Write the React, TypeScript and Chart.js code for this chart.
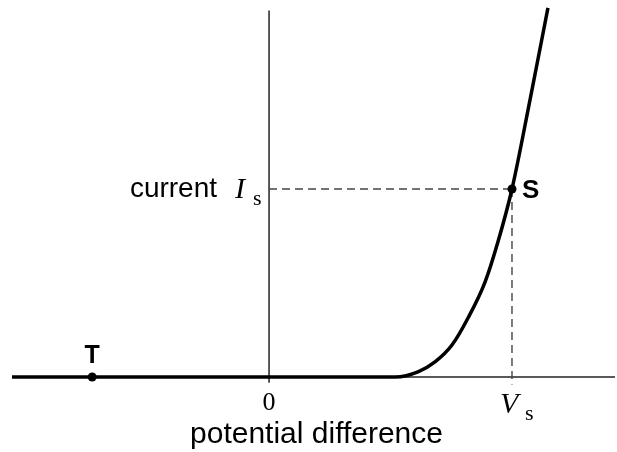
import React, { useEffect, useRef } from "react";
import { Chart, registerables } from "chart.js";

Chart.register(...registerables);

// Data (units: V_s = 1, I_s = 1)
const curveV = [-1.058, 0.52, 0.613, 0.683, 0.753, 0.819, 0.889, 0.942, 1.0, 1.074, 1.148];
const curveI = [0, 0, 0.027, 0.08, 0.17, 0.314, 0.505, 0.718, 1.0, 1.473, 1.963];
const pointNames = ["T", "S"];
const pointV = [-0.728, 1.0];
const pointI = [0, 1.0];
const xRange = [-1.058, 1.424];
const yRange = [-0.399, 2.0];
const yAxisSpan = [-0.03, 1.95];
const dashDrop = -0.04;

const SANS = '"Liberation Sans", Arial, sans-serif';
const SERIF = '"Liberation Serif", "Times New Roman", serif';

const labelPlugin = {
  id: "labels",
  afterDatasetsDraw(chart: any) {
    const ctx = chart.ctx;
    const xs = chart.scales.x;
    const ys = chart.scales.y;
    const x0 = xs.getPixelForValue(0);
    const xS = xs.getPixelForValue(pointV[1]);
    const xT = xs.getPixelForValue(pointV[0]);
    const y0 = ys.getPixelForValue(0);
    const y1 = ys.getPixelForValue(pointI[1]);
    ctx.save();
    ctx.fillStyle = "#000";
    ctx.textBaseline = "alphabetic";

    // "0"
    ctx.font = `26px ${SERIF}`;
    ctx.textAlign = "center";
    ctx.fillText("0", x0, y0 + 33);

    // V_s
    ctx.textAlign = "left";
    ctx.font = `italic 30px ${SERIF}`;
    ctx.fillText("V", xS - 12, y0 + 36);
    ctx.font = `22px ${SERIF}`;
    ctx.fillText("s", xS + 13, y0 + 43);

    // current I_s
    ctx.font = `28px ${SANS}`;
    ctx.textAlign = "right";
    ctx.fillText("current", x0 - 52, y1 + 8);
    ctx.textAlign = "left";
    ctx.font = `italic 30px ${SERIF}`;
    ctx.fillText("I", x0 - 34, y1 + 9);
    ctx.font = `22px ${SERIF}`;
    ctx.fillText("s", x0 - 16, y1 + 16);

    // T and S
    ctx.font = `bold 25px ${SANS}`;
    ctx.textAlign = "center";
    ctx.fillText(pointNames[0], xT, y0 - 14);
    ctx.font = `bold 26px ${SANS}`;
    ctx.textAlign = "left";
    ctx.fillText(pointNames[1], xS + 10, y1 + 9);

    // axis title
    ctx.font = `30px ${SANS}`;
    ctx.textAlign = "center";
    const ca = chart.chartArea;
    ctx.fillText("potential difference", (ca.left + ca.right) / 2 + 3, y0 + 66);
    ctx.restore();
  },
};

export default function App() {
  const ref = useRef<HTMLCanvasElement>(null);
  useEffect(() => {
    if (!ref.current) return;
    const chart = new Chart(ref.current, {
      type: "scatter",
      data: {
        datasets: [
          {
            label: "points",
            data: pointV.map((v, i) => ({ x: v, y: pointI[i] })),
            showLine: false,
            pointRadius: 4.5,
            pointBackgroundColor: "#000",
            pointBorderColor: "#000",
            pointBorderWidth: 0,
            order: 0,
          },
          {
            label: "curve",
            data: curveV.map((v, i) => ({ x: v, y: curveI[i] })),
            showLine: true,
            borderColor: "#000",
            borderWidth: 3.5,
            pointRadius: 0,
            cubicInterpolationMode: "monotone",
            order: 1,
          },
          {
            label: "dash-h",
            data: [
              { x: 0, y: pointI[1] },
              { x: pointV[1], y: pointI[1] },
            ],
            showLine: true,
            borderColor: "#444",
            borderWidth: 1.4,
            borderDash: [8, 5],
            pointRadius: 0,
            order: 2,
          },
          {
            label: "dash-v",
            data: [
              { x: pointV[1], y: pointI[1] },
              { x: pointV[1], y: dashDrop },
            ],
            showLine: true,
            borderColor: "#444",
            borderWidth: 1.4,
            borderDash: [8, 5],
            pointRadius: 0,
            order: 2,
          },
          {
            label: "x-axis",
            data: [
              { x: xRange[0], y: 0 },
              { x: xRange[1], y: 0 },
            ],
            showLine: true,
            borderColor: "#222",
            borderWidth: 1.5,
            pointRadius: 0,
            order: 3,
          },
          {
            label: "y-axis",
            data: [
              { x: 0, y: yAxisSpan[0] },
              { x: 0, y: yAxisSpan[1] },
            ],
            showLine: true,
            borderColor: "#222",
            borderWidth: 1.5,
            pointRadius: 0,
            order: 3,
          },
        ],
      },
      options: {
        animation: false,
        responsive: false,
        layout: { autoPadding: false, padding: { left: 12, right: 2, top: 1, bottom: 0 } },
        plugins: {
          legend: { display: false },
          tooltip: { enabled: false },
          title: { display: false },
        },
        events: [],
        scales: {
          x: { type: "linear", display: false, min: xRange[0], max: xRange[1] },
          y: { type: "linear", display: false, min: yRange[0], max: yRange[1] },
        },
      },
      plugins: [labelPlugin],
    });
    return () => chart.destroy();
  }, []);
  return (
    <div style={{ position: "fixed", left: 0, top: 0, width: 617, height: 452, background: "#fff" }}>
      <canvas ref={ref} width={617} height={452} style={{ display: "block" }} />
    </div>
  );
}
